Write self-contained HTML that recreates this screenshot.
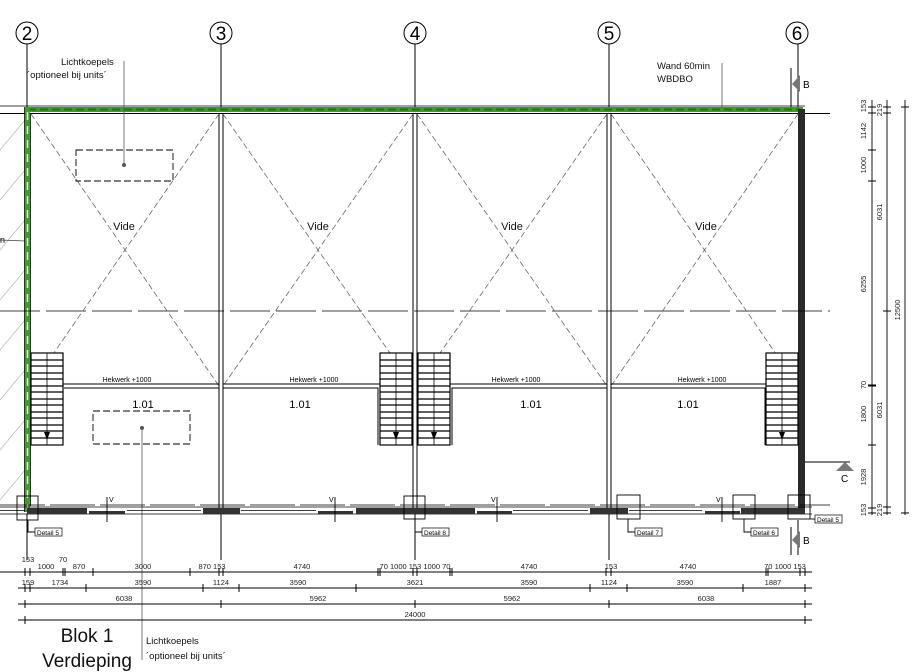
<!DOCTYPE html>
<html><head><meta charset="utf-8"><style>
html,body{margin:0;padding:0;background:#fff;width:920px;height:672px;overflow:hidden}
svg{display:block;font-family:"Liberation Sans",sans-serif}
</style></head><body>
<svg width="920" height="672" viewBox="0 0 920 672" xmlns="http://www.w3.org/2000/svg">
<rect width="920" height="672" fill="#fff"/>
<g stroke="#bbb" stroke-width="0.8">
<line x1="0" y1="150" x2="25" y2="120"/><line x1="0" y1="200" x2="25" y2="170"/><line x1="0" y1="250" x2="25" y2="220"/>
<line x1="0" y1="300" x2="25" y2="270"/><line x1="0" y1="350" x2="25" y2="320"/><line x1="0" y1="400" x2="25" y2="370"/>
<line x1="0" y1="450" x2="25" y2="420"/><line x1="0" y1="500" x2="25" y2="470"/>
</g>
<line x1="0" y1="240" x2="26" y2="241" stroke="#444" stroke-width="0.8"/>
<text x="0" y="243" font-size="9">n</text>
<g stroke="#000" stroke-width="1" fill="#fff">
<circle cx="27" cy="33" r="11"/><circle cx="221" cy="33" r="11"/><circle cx="415" cy="33" r="11"/><circle cx="609" cy="33" r="11"/><circle cx="797" cy="33" r="11"/>
<line x1="27" y1="44" x2="27" y2="107"/><line x1="221" y1="44" x2="221" y2="107"/><line x1="415" y1="44" x2="415" y2="107"/><line x1="609" y1="44" x2="609" y2="107"/><line x1="798" y1="44" x2="798" y2="107"/>
</g>
<g font-size="19" text-anchor="middle"><text x="27" y="40">2</text><text x="221" y="40">3</text><text x="415" y="40">4</text><text x="609" y="40">5</text><text x="797" y="40">6</text></g>
<line x1="0" y1="106" x2="805" y2="106" stroke="#000" stroke-width="0.8"/>
<line x1="0" y1="113.5" x2="830" y2="113.5" stroke="#000" stroke-width="1"/>
<rect x="25" y="107" width="778" height="5" fill="#3f9b2a"/>
<line x1="28" y1="109.5" x2="800" y2="109.5" stroke="#2a6f1a" stroke-width="2" stroke-dasharray="8,4"/>
<rect x="25" y="107" width="5" height="405" fill="#3f9b2a"/>
<line x1="27.5" y1="112" x2="27.5" y2="510" stroke="#e6f5e0" stroke-width="1.5" stroke-dasharray="8,6"/>
<line x1="24.5" y1="107" x2="24.5" y2="512" stroke="#000" stroke-width="0.8"/>
<line x1="30.5" y1="113" x2="30.5" y2="506" stroke="#000" stroke-width="0.8"/>
<rect x="798" y="109" width="7" height="405" fill="#2a2a2a"/>
<line x1="0" y1="311" x2="830" y2="311" stroke="#000" stroke-width="0.8" stroke-dasharray="40,6"/>
<g stroke="#000" stroke-width="1">
<line x1="219" y1="113" x2="219" y2="508"/><line x1="223" y1="113" x2="223" y2="508"/>
<line x1="413" y1="113" x2="413" y2="508"/><line x1="417" y1="113" x2="417" y2="508"/>
<line x1="607" y1="113" x2="607" y2="508"/><line x1="611" y1="113" x2="611" y2="508"/>
</g>
<g stroke="#666" stroke-width="0.8" stroke-dasharray="6,3">
<line x1="31" y1="114" x2="219" y2="386"/><line x1="219" y1="114" x2="31" y2="386"/>
<line x1="223" y1="114" x2="413" y2="386"/><line x1="413" y1="114" x2="223" y2="386"/>
<line x1="417" y1="114" x2="607" y2="386"/><line x1="607" y1="114" x2="417" y2="386"/>
<line x1="611" y1="114" x2="798" y2="386"/><line x1="798" y1="114" x2="611" y2="386"/>
</g>
<g font-size="11" text-anchor="middle" fill="#111">
<text x="124" y="230">Vide</text><text x="318" y="230">Vide</text><text x="512" y="230">Vide</text><text x="706" y="230">Vide</text>
</g>
<g stroke="#000" stroke-width="1" fill="none">
<polyline points="63,388 63,384 219,384"/><line x1="64" y1="388" x2="219" y2="388"/>
<line x1="223" y1="384" x2="380" y2="384"/><polyline points="223,388 378,388 378,445"/>
<line x1="450" y1="384" x2="607" y2="384"/><polyline points="452,445 452,388 607,388"/>
<line x1="611" y1="384" x2="767" y2="384"/><polyline points="611,388 765,388 765,445"/>
</g>
<g font-size="7" text-anchor="middle"><text x="127" y="382">Hekwerk +1000</text><text x="314" y="382">Hekwerk +1000</text><text x="516" y="382">Hekwerk +1000</text><text x="702" y="382">Hekwerk +1000</text></g>
<g font-size="11" text-anchor="middle"><text x="143" y="408">1.01</text><text x="300" y="408">1.01</text><text x="531" y="408">1.01</text><text x="688" y="408">1.01</text></g>
<defs>
<g id="st">
<rect x="0" y="0" width="32" height="92" fill="#fff" stroke="#000" stroke-width="1.2"/>
<line x1="16" y1="0" x2="16" y2="92" stroke="#000" stroke-width="0.8"/>
<g stroke="#000" stroke-width="1.2">
<line x1="0" y1="7" x2="32" y2="7"/><line x1="0" y1="13" x2="32" y2="13"/><line x1="0" y1="20" x2="32" y2="20"/><line x1="0" y1="26" x2="32" y2="26"/><line x1="0" y1="33" x2="32" y2="33"/><line x1="0" y1="39" x2="32" y2="39"/><line x1="0" y1="46" x2="32" y2="46"/><line x1="0" y1="52" x2="32" y2="52"/><line x1="0" y1="59" x2="32" y2="59"/><line x1="0" y1="65" x2="32" y2="65"/><line x1="0" y1="72" x2="32" y2="72"/><line x1="0" y1="78" x2="32" y2="78"/><line x1="0" y1="85" x2="32" y2="85"/>
</g>
<path d="M13,79 L16,87 L19,79 Z" fill="#000"/>
</g>
</defs>
<use href="#st" x="31" y="353"/><use href="#st" x="380" y="353"/><use href="#st" x="418" y="353"/><use href="#st" x="766" y="353"/>
<g stroke="#000" stroke-width="0.9" fill="none" stroke-dasharray="7,3">
<rect x="76" y="150" width="97" height="31"/><rect x="93" y="411" width="97" height="33"/>
</g>
<circle cx="124" cy="165" r="2" fill="#555"/><circle cx="142" cy="428" r="2" fill="#555"/>
<line x1="124" y1="165" x2="124" y2="61" stroke="#555" stroke-width="0.8"/>
<line x1="142" y1="428" x2="142" y2="660" stroke="#555" stroke-width="0.8"/>
<g font-size="9.5" fill="#111"><text x="61" y="65">Lichtkoepels</text><text x="27" y="78">´optioneel bij units´</text>
<text x="146" y="644">Lichtkoepels</text><text x="146" y="659">´optioneel bij units´</text>
<text x="657" y="69">Wand 60min</text><text x="657" y="82">WBDBO</text></g>
<line x1="722" y1="63" x2="722" y2="108" stroke="#555" stroke-width="0.8"/>
<line x1="0" y1="505" x2="830" y2="505" stroke="#000" stroke-width="0.8" stroke-dasharray="45,5"/>
<line x1="0" y1="507" x2="812" y2="507" stroke="#000" stroke-width="0.8"/>
<line x1="0" y1="514" x2="812" y2="514" stroke="#000" stroke-width="0.8"/>
<g fill="#333"><rect x="27" y="508" width="60" height="6"/><rect x="203" y="508" width="37" height="6"/><rect x="356" y="508" width="119" height="6"/><rect x="590" y="508" width="38" height="6"/><rect x="741" y="508" width="64" height="6"/>
<rect x="89" y="511" width="36" height="3"/><rect x="318" y="511" width="35" height="3"/><rect x="477" y="511" width="35" height="3"/><rect x="705" y="511" width="35" height="3"/></g>
<g stroke="#000" stroke-width="0.7"><line x1="127" y1="510.5" x2="201" y2="510.5"/><line x1="241" y1="510.5" x2="316" y2="510.5"/><line x1="513" y1="510.5" x2="588" y2="510.5"/><line x1="629" y1="510.5" x2="702" y2="510.5"/><line x1="0" y1="510.5" x2="25" y2="510.5"/></g>
<g stroke="#000" stroke-width="0.9"><line x1="107" y1="497" x2="107" y2="522"/><line x1="335" y1="497" x2="335" y2="522"/><line x1="497" y1="497" x2="497" y2="522"/><line x1="722" y1="497" x2="722" y2="522"/></g>
<g font-size="7"><text x="109" y="502">V</text><text x="329" y="502">V</text><text x="491" y="502">V</text><text x="716" y="502">V</text></g>
<g stroke="#000" stroke-width="1"><line x1="27" y1="514" x2="27" y2="560"/><line x1="221" y1="514" x2="221" y2="560"/><line x1="415" y1="514" x2="415" y2="560"/><line x1="609" y1="514" x2="609" y2="560"/><line x1="798" y1="520" x2="798" y2="555"/><line x1="791" y1="527" x2="791" y2="555"/></g>
<g stroke="#000" stroke-width="0.9" fill="none">
<rect x="17" y="496" width="21" height="24"/><rect x="404" y="496" width="21" height="23"/><rect x="617" y="495" width="23" height="24"/><rect x="733" y="495" width="22" height="24"/><rect x="788" y="495" width="22" height="24"/>
<polyline points="28,520 28,532 35,532"/><polyline points="415,519 415,532 422,532"/><polyline points="628,519 628,532 635,532"/><polyline points="744,519 744,532 751,532"/><polyline points="810,519 815,519"/>
</g>
<g font-size="7" stroke="#000" stroke-width="0.7"><rect x="35" y="528" width="27" height="8" fill="#fff"/><rect x="422" y="528" width="27" height="8" fill="#fff"/><rect x="635" y="528" width="27" height="8" fill="#fff"/><rect x="751" y="528" width="27" height="8" fill="#fff"/><rect x="815" y="515" width="27" height="8" fill="#fff"/></g>
<g font-size="6.5"><text x="37" y="535">Detail 5</text><text x="424" y="535">Detail 8</text><text x="637" y="535">Detail 7</text><text x="753" y="535">Detail 6</text><text x="817" y="522">Detail 5</text></g>
<line x1="791" y1="68" x2="791" y2="107" stroke="#000"/>
<path d="M800,75 L792,84 L800,92 Z" fill="#777"/><text x="803" y="88" font-size="10">B</text>
<path d="M800,531 L792,540 L800,548 Z" fill="#777"/><text x="803" y="544" font-size="10">B</text>
<line x1="805" y1="462" x2="850" y2="462" stroke="#000"/>
<path d="M836,471 L845,462 L854,471 Z" fill="#777"/><text x="841" y="482" font-size="10">C</text>
<g stroke="#000" stroke-width="0.9">
<line x1="0" y1="572" x2="812" y2="572"/><line x1="18" y1="588" x2="812" y2="588"/><line x1="18" y1="604" x2="812" y2="604"/><line x1="18" y1="620" x2="812" y2="620"/>
</g>
<g stroke="#000" stroke-width="1">
<path d="M25,568v8M30,568v8M63,568v8M65,568v8M93,568v8M190,568v8M219,568v8M223,568v8M378,568v8M380,568v8M413,568v8M417,568v8M450,568v8M452,568v8M606,568v8M611,568v8M766,568v8M768,568v8M800,568v8M805,568v8"/>
<path d="M25,584v8M30,584v8M86,584v8M203,584v8M239,584v8M356,584v8M590,584v8M627,584v8M743,584v8M805,584v8"/>
<path d="M25,600v8M221,600v8M415,600v8M609,600v8M805,600v8"/>
<path d="M25,616v8M805,616v8"/>
</g>
<g font-size="7.5" text-anchor="middle" fill="#222">
<text x="28" y="562">153</text><text x="63" y="562">70</text><text x="46" y="569">1000</text><text x="79" y="569">870</text><text x="143" y="569">3000</text><text x="212" y="569">870 153</text><text x="302" y="569">4740</text><text x="415" y="569">70 1000 153 1000 70</text><text x="529" y="569">4740</text><text x="611" y="569">153</text><text x="688" y="569">4740</text><text x="785" y="569">70 1000 153</text>
<text x="28" y="585">159</text><text x="60" y="585">1734</text><text x="143" y="585">3590</text><text x="221" y="585">1124</text><text x="298" y="585">3590</text><text x="415" y="585">3621</text><text x="529" y="585">3590</text><text x="609" y="585">1124</text><text x="685" y="585">3590</text><text x="773" y="585">1887</text>
<text x="124" y="601">6038</text><text x="318" y="601">5962</text><text x="512" y="601">5962</text><text x="706" y="601">6038</text>
<text x="415" y="617">24000</text>
</g>
<g stroke="#000" stroke-width="0.9">
<line x1="872" y1="100" x2="872" y2="515"/><line x1="887" y1="100" x2="887" y2="515"/><line x1="905" y1="100" x2="905" y2="515"/>
<path d="M868,107h8M868,113h8M868,150h8M868,181h8M868,385h8M868,386h8M868,445h8M868,508h8M868,513h8"/>
<path d="M883,107h8M883,113h8M883,311h8M883,507h8M883,513h8M901,107h8M901,513h8"/>
</g>
<g font-size="7.5" text-anchor="middle" fill="#222">
<text transform="translate(866,106) rotate(-90)">153</text><text transform="translate(866,131) rotate(-90)">1142</text><text transform="translate(866,165) rotate(-90)">1000</text><text transform="translate(866,284) rotate(-90)">6255</text><text transform="translate(866,385) rotate(-90)">70</text><text transform="translate(866,414) rotate(-90)">1800</text><text transform="translate(866,477) rotate(-90)">1928</text><text transform="translate(866,510) rotate(-90)">153</text>
<text transform="translate(882,110) rotate(-90)">219</text><text transform="translate(882,212) rotate(-90)">6031</text><text transform="translate(882,410) rotate(-90)">6031</text><text transform="translate(882,510) rotate(-90)">219</text>
<text transform="translate(900,310) rotate(-90)">12500</text>
</g>
<g font-size="19" text-anchor="middle" fill="#111"><text x="87" y="642">Blok 1</text><text x="87" y="667">Verdieping</text></g>
</svg>
</body></html>
